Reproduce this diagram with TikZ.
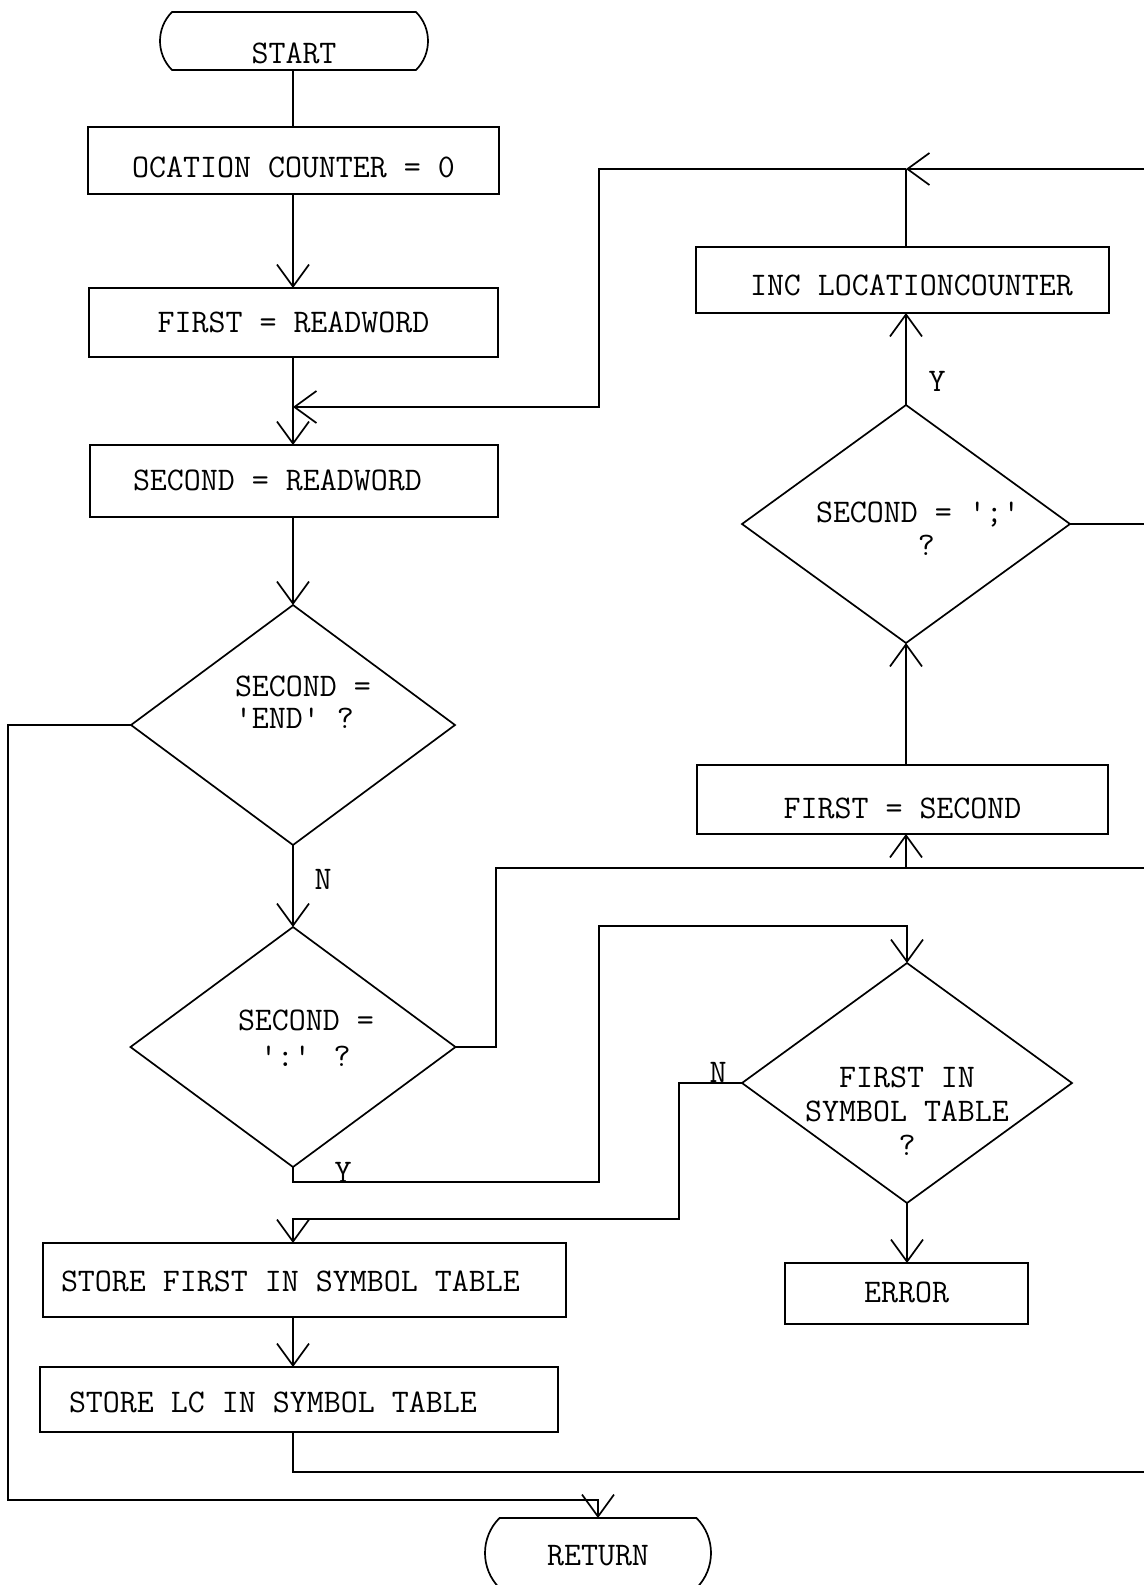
\documentclass[tikz,border=0pt]{standalone}
\usepackage{fontspec}
\usetikzlibrary{shapes.geometric,shapes.misc,arrows.meta}
\newcommand{\squote}{\textquotesingle}
% box content of width #1 whose text starts #2 from the left edge
\newcommand{\padleft}[3]{\makebox[#1][l]{\hspace*{#2}#3}}
\begin{document}
\begin{tikzpicture}[x=1pt,y=-1pt,
  every node/.style={font=\fontsize{33}{35}\selectfont\ttfamily, inner sep=0pt, outer sep=0pt},
  flow/.style={line width=1.7pt},
  arr/.style={flow, -{Straight Barb[length=22pt,width=32pt]}},
  box/.style={draw, line width=1.7pt, rectangle},
  term/.style={draw, line width=1.7pt, rounded rectangle, rounded rectangle arc length=90},
  dia/.style={draw, line width=1.7pt, diamond},
  txt/.style={align=left}
]
% page frame
\useasboundingbox (0,0) rectangle (1144,1585);
\fill[white] (0,0) rectangle (1144,1585);
\clip (0,0) rectangle (1144,1585);

% columns and junctions
\coordinate (colL) at (293,0);
\coordinate (colR) at (906,0);
\coordinate (jM) at (293,407);
\coordinate (jTop) at (906,169);
\coordinate (eTop) at (1144,169);
\coordinate (jG) at (599,407);
\coordinate (eR) at (1144,524);
\coordinate (jA) at (496,868);
\coordinate (jB) at (906,868);
\coordinate (eMid) at (1144,868);
\coordinate (jC) at (599,1182);
\coordinate (jD) at (599,926);
\coordinate (jE) at (679,1219);
\coordinate (eLow) at (1144,1472);
\coordinate (lb) at (8,1500);

% left column
\node[term, minimum width=268pt, text height=51pt, text depth=7pt] (start) at (294,41) {START};
\node[box, minimum width=411pt, text height=50pt, text depth=17pt] (b1) at (293.5,160.5) {OCATION COUNTER = 0};
\node[box, minimum width=409pt, text height=44pt, text depth=25pt] (b2) at (293.5,322.5) {FIRST = READWORD};
\node[box, text height=45pt, text depth=27pt] (b3) at (294,481) {\padleft{408pt}{43pt}{SECOND = READWORD}};

\node[dia, minimum width=324pt, minimum height=240pt] (d1) at (293,725) {};
\node[txt, anchor=north west, font=\fontsize{33}{32}\selectfont\ttfamily] (d1t) at (235,676) {SECOND =\\\squote END\squote{} ?};

\node[dia, minimum width=325pt, minimum height=240pt] (d2) at (293,1047) {};
\node[txt, anchor=north west, font=\fontsize{33}{36}\selectfont\ttfamily] (d2t) at (238,1010) {SECOND =\\\hspace*{22pt}\squote:\squote{} ?};

\node[box, text height=48pt, text depth=26pt] (sf) at (304.5,1280) {\padleft{523pt}{18pt}{STORE FIRST IN SYMBOL TABLE}};
\node[box, text height=45pt, text depth=20pt] (lc) at (299,1399.5) {\padleft{518pt}{29pt}{STORE LC IN SYMBOL TABLE}};
\node[term, minimum width=226pt, text height=47pt, text depth=23pt] (ret) at (598,1553) {RETURN};

% right column
\node[box, text height=48pt, text depth=18pt] (inc) at (902.5,280) {\padleft{413pt}{54pt}{INC LOCATIONCOUNTER}};
\node[dia, minimum width=328pt, minimum height=238pt] (d4) at (906,524) {};
\node[txt, anchor=north west, font=\fontsize{33}{33}\selectfont\ttfamily] (d4t) at (816,502) {SECOND = \squote;\squote\\\phantom{SECOND}?};
\node[box, minimum width=411pt, text height=53pt, text depth=16pt] (fs) at (902.5,799.5) {FIRST = SECOND};

\node[dia, minimum width=330pt, minimum height=240pt] (d3) at (907,1083) {};
\node[align=center, anchor=north, font=\fontsize{33}{34}\selectfont\ttfamily] (d3t) at (907,1067) {FIRST IN\\SYMBOL TABLE\\?};
\node[box, minimum width=243pt, text height=39pt, text depth=22pt] (err) at (906.5,1293.5) {ERROR};

% branch labels
\node (n1) at (323,879) {N};
\node (y1) at (343,1172) {Y};
\node (n2) at (718,1072) {N};
\node (y2) at (937,381) {Y};

% connectors
\draw[flow] (start.south -| colL) -- (b1.north -| colL);
\draw[arr] (b1.south -| colL) -- (b2.north -| colL);
\draw[arr] (b2.south -| colL) -- (b3.north -| colL);
\draw[arr] (b3.south -| colL) -- (d1.north);
\draw[arr] (d1.south) -- (d2.north);
\draw[arr] (d1.west) -| (lb) -| (ret.north);
\draw[flow] (d2.east) -| (jA) -- (eMid);
\draw[arr] (jB) -- (fs.south -| colR);
\draw[arr] (d2.south) |- (jC) -- (jD) -| (d3.north);
\draw[arr] (d3.west) -| (jE) -| (sf.north -| colL);
\draw[arr] (d3.south) -- (d3.south |- err.north);
\draw[arr] (sf.south -| colL) -- (lc.north -| colL);
\draw[flow] (lc.south -| colL) |- (eLow);
\draw[arr] (fs.north -| colR) -- (d4.south);
\draw[arr] (d4.north) -- (inc.south -| colR);
\draw[flow] (d4.east) -- (eR);
\draw[flow] (inc.north -| colR) -- (jTop);
\draw[arr] (eTop) -- (jTop);
\draw[arr] (jTop) -| (jG) -- (jM);
\end{tikzpicture}
\end{document}
